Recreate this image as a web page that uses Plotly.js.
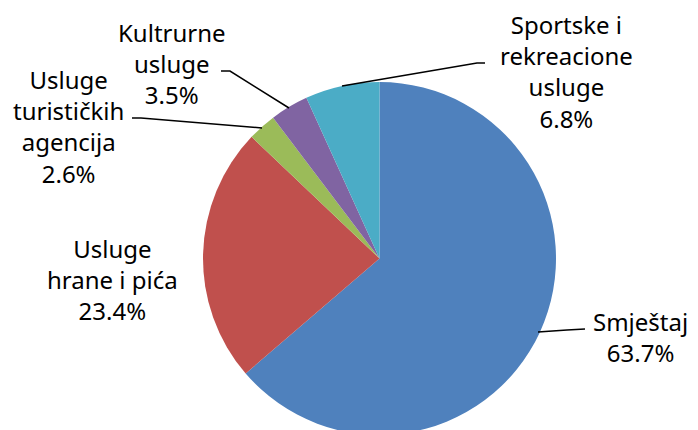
<!DOCTYPE html>
<html>
<head>
<meta charset="utf-8">
<script src="https://cdn.plot.ly/plotly-3.0.1.min.js"></script>
<style>
html,body{margin:0;padding:0;overflow:hidden;background:#fff;}
#chart{width:698px;height:440px;}
</style>
</head>
<body>
<div id="chart"></div>
<script>
// Data
const categories = ["Smještaj", "Usluge hrane i pića", "Usluge turističkih agencija", "Kultrurne usluge", "Sportske i rekreacione usluge"];
const labelLines = ["Smještaj", "Usluge<br>hrane i pića", "Usluge<br>turističkih<br>agencija", "Kultrurne<br>usluge", "Sportske i<br>rekreacione<br>usluge"];
const shares = [63.7, 23.4, 2.6, 3.5, 6.8];
const colors = ["#4F81BD", "#C0504D", "#9BBB59", "#8064A2", "#4BACC6"];

const W = 698, H = 440;
const px = x => x / W;
const py = y => 1 - y / H;

// label placement (pixels) and leader lines
const labelPos = [[640, 337], [112, 279], [68, 126], [172, 63], [566, 72]];
const leaders = [
  [[538, 332], [567, 330], [585, 329]],
  null,
  [[132, 118], [141, 118], [262, 128]],
  [[221, 71], [230, 71], [289, 108]],
  [[485, 63], [477, 63], [342, 86]]
];

const font = {family: "Noto Sans, sans-serif", size: 24, color: "#000"};

const annotations = categories.map((c, i) => ({
  xref: "paper", yref: "paper",
  x: px(labelPos[i][0]), y: py(labelPos[i][1]),
  xanchor: "center", yanchor: "middle",
  text: labelLines[i] + "<br>" + shares[i].toFixed(1) + "%",
  showarrow: false, font: font, align: "center"
}));

const shapes = leaders.filter(l => l).map(pts => ({
  type: "path", xref: "paper", yref: "paper",
  path: "M" + pts.map(p => px(p[0]) + "," + py(p[1])).join(" L"),
  line: {color: "#000", width: 1.5}
}));

const trace = {
  type: "pie",
  labels: categories,
  values: shares,
  sort: false,
  direction: "clockwise",
  rotation: 0,
  marker: {colors: colors, line: {width: 0}},
  textinfo: "none",
  hoverinfo: "label+percent",
  showlegend: false,
  domain: {x: [203 / W, 556 / W], y: [py(435), py(82)]}
};

Plotly.newPlot("chart", [trace], {
  width: W, height: H,
  margin: {l: 0, r: 0, t: 0, b: 0},
  paper_bgcolor: "#fff",
  showlegend: false,
  annotations: annotations,
  shapes: shapes,
  font: font
}, {staticPlot: true});
</script>
</body>
</html>
